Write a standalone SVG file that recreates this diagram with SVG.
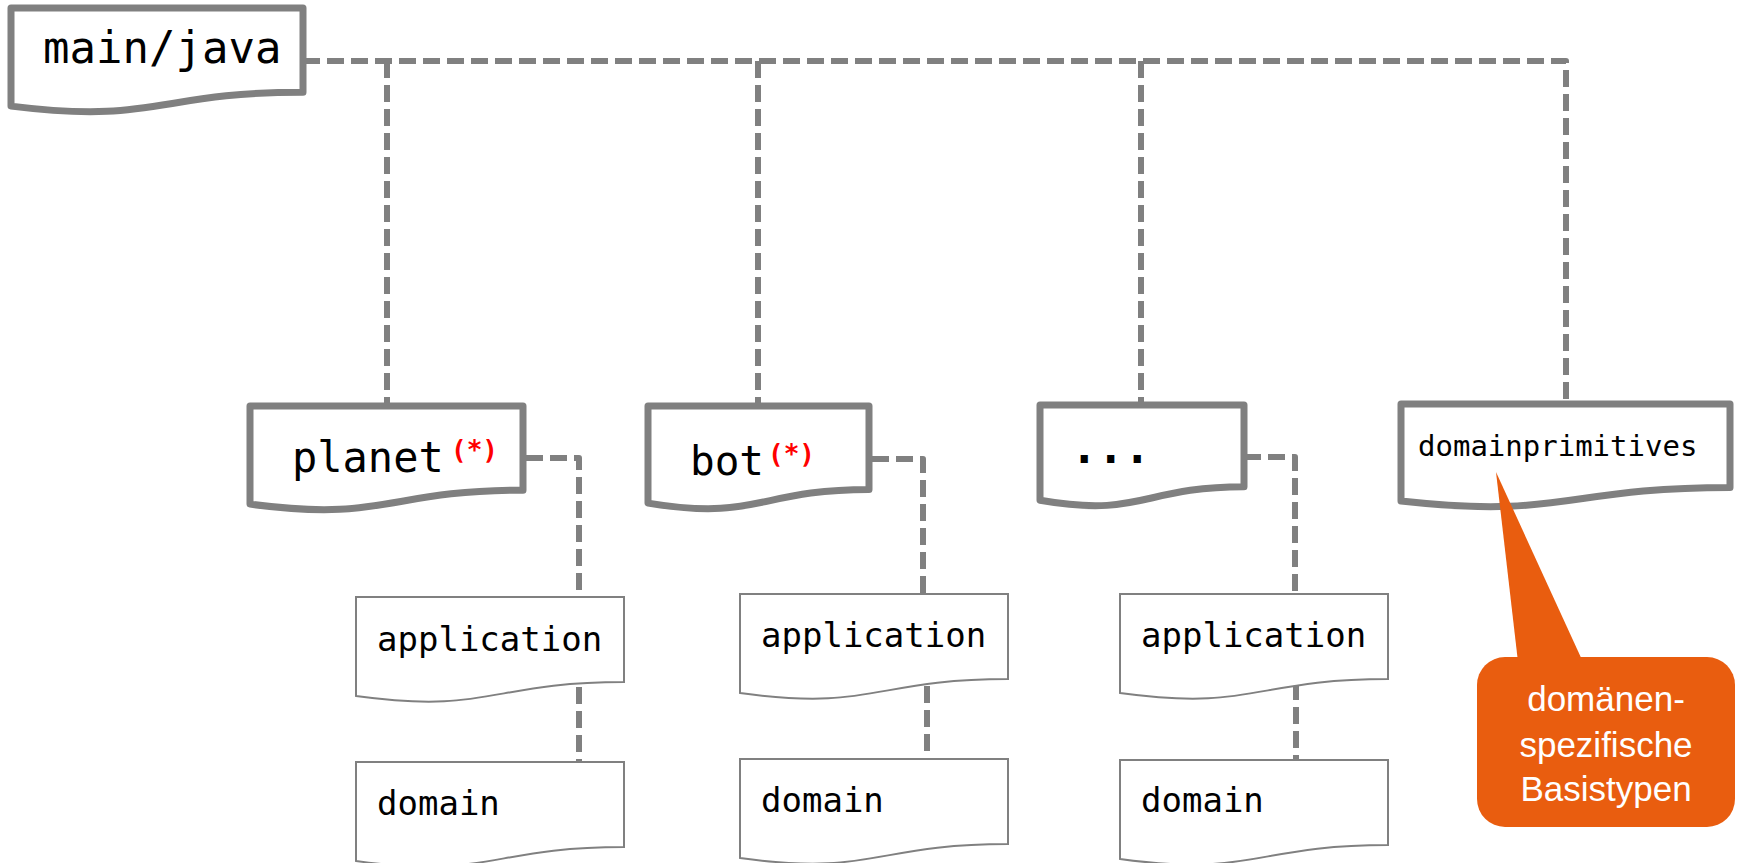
<svg xmlns="http://www.w3.org/2000/svg" width="1737" height="863" viewBox="0 0 1737 863">
<style>
.conn{fill:none;stroke:#808080;stroke-width:6;stroke-dasharray:17 7;stroke-linejoin:round}
.big{fill:#fff;stroke:#808080;stroke-width:7;stroke-linejoin:round}
.small{fill:#fff;stroke:#808080;stroke-width:2}
.mono{font-family:"DejaVu Sans Mono","Liberation Mono",monospace;fill:#000}
.star{font-family:"DejaVu Sans Mono","Liberation Mono",monospace;fill:#ff0000;font-weight:bold;font-size:26px}
.callout{fill:#E95D0F}
.ctext{font-family:"Liberation Sans",Arial,sans-serif;font-size:35px;fill:#fff;text-anchor:middle}
</style>
<rect width="1737" height="863" fill="#fff"/>
<g id="connectors">
<path class="conn" d="M303,61 H1566 V404"/>
<path class="conn" d="M387,61 V406"/>
<path class="conn" d="M758,61 V406"/>
<path class="conn" d="M1141,61 V405"/>
<path class="conn" d="M526,458 H579 V597"/>
<path class="conn" d="M579,687 V762"/>
<path class="conn" d="M872,459 H923 V594"/>
<path class="conn" d="M927,686 V759"/>
<path class="conn" d="M1244,457 H1295 V594"/>
<path class="conn" d="M1296,683 V760"/>
</g>
<g id="main-java">
<path class="big" d="M11,8 H303 V92.2 C157,92.2 157,124.3 11,106.1 Z"/>
<text class="mono" x="43" y="63" font-size="44">main/java</text>
</g>
<g id="planet">
<path class="big" d="M250,406 H523 V490.2 C386.5,490.2 386.5,522.3 250,504.1 Z"/>
<text class="mono" x="292" y="472" font-size="42">planet</text>
<text class="star" x="451" y="459">(*)</text>
</g>
<g id="bot">
<path class="big" d="M648,406 H869 V489.4 C758.5,489.4 758.5,521.2 648,503.1 Z"/>
<text class="mono" x="690" y="475" font-size="41">bot</text>
<text class="star" x="768" y="463">(*)</text>
</g>
<g id="more">
<path class="big" d="M1040,405 H1244 V486.8 C1142,486.8 1142,518 1040,500.3 Z"/>
<text class="mono" x="1071" y="463" font-size="44" font-weight="bold">...</text>
</g>
<g id="domainprimitives">
<path class="big" d="M1401,404 H1730 V487.4 C1565.5,487.4 1565.5,519.2 1401,501.1 Z"/>
<text class="mono" x="1418" y="456" font-size="29">domainprimitives</text>
</g>
<g id="planet-application">
<path class="small" d="M356,597 H624 V682 C490,682 490,714.4 356,696 Z"/>
<text class="mono" x="377" y="651" font-size="34">application</text>
</g>
<g id="planet-domain">
<path class="small" d="M356,762 H624 V847 C490,847 490,879.4 356,861 Z"/>
<text class="mono" x="377" y="815" font-size="34">domain</text>
</g>
<g id="bot-application">
<path class="small" d="M740,594 H1008 V679 C874,679 874,711.4 740,693 Z"/>
<text class="mono" x="761" y="647" font-size="34">application</text>
</g>
<g id="bot-domain">
<path class="small" d="M740,759 H1008 V844 C874,844 874,876.4 740,858 Z"/>
<text class="mono" x="761" y="812" font-size="34">domain</text>
</g>
<g id="more-application">
<path class="small" d="M1120,594 H1388 V679 C1254,679 1254,711.4 1120,693 Z"/>
<text class="mono" x="1141" y="647" font-size="34">application</text>
</g>
<g id="more-domain">
<path class="small" d="M1120,760 H1388 V845 C1254,845 1254,877.4 1120,859 Z"/>
<text class="mono" x="1141" y="812" font-size="34">domain</text>
</g>
<g id="callout">
<polygon class="callout" points="1496,472 1518,662 1583,662"/>
<rect class="callout" x="1477" y="657" width="258" height="170" rx="28" ry="28"/>
<text class="ctext" x="1606" y="711">domänen-</text>
<text class="ctext" x="1606" y="757">spezifische</text>
<text class="ctext" x="1606" y="801">Basistypen</text>
</g>
</svg>
